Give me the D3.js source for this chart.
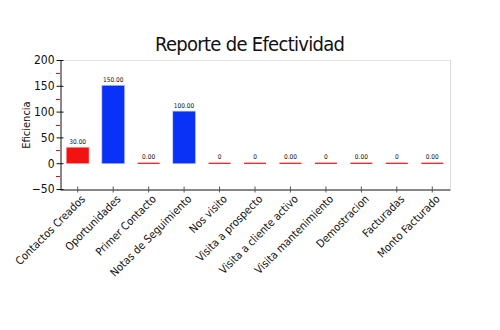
<!DOCTYPE html>
<html><head><meta charset="utf-8">
<script src="https://cdnjs.cloudflare.com/ajax/libs/d3/7.8.5/d3.min.js"></script>
<style>body{margin:0;background:#fff}svg{display:block}text{font-family:"DejaVu Sans Condensed","DejaVu Sans",sans-serif}</style>
</head><body><svg id="c" width="500" height="330"></svg>
<script>
const categories = ["Contactos Creados","Oportunidades","Primer Contacto","Notas de Seguimiento","Nos visito","Visita a prospecto","Visita a cliente activo","Visita mantenimiento","Demostracion","Facturadas","Monto Facturado"];
const values = [30,150,0,100,0,0,0,0,0,0,0];
const valueLabels = ["30.00","150.00","0.00","100.00","0","0","0.00","0","0.00","0","0.00"];
const barColors = ["#f21212","#0a32f7","#f21212","#0a32f7","#f21212","#f21212","#f21212","#f21212","#f21212","#f21212","#f21212"];
const yTicks = [-50,0,50,100,150,200];
const title = "Reporte de Efectividad";
const yTitle = "Eficiencia";

const svg = d3.select("#c");
const L=60,R=450,T=60,B=189;
const x = d3.scaleBand().domain(categories).range([L,R]).paddingInner(0.38).paddingOuter(0.19);
const y = d3.scaleLinear().domain([-50,200]).range([B,T]);

svg.append("text").attr("x",250).attr("y",51).attr("text-anchor","middle")
  .attr("font-size",20).attr("fill","#111").attr("textLength",190).text(title);

svg.append("line").attr("x1",L).attr("x2",R).attr("y1",T+0.5).attr("y2",T+0.5).attr("stroke","#e2e2e2");
svg.append("line").attr("x1",R+0.5).attr("x2",R+0.5).attr("y1",T).attr("y2",B).attr("stroke","#dcdcdc");

const minors = d3.range(-25,200,50);
svg.selectAll(".mn").data(minors).join("line").attr("x1",L-4).attr("x2",L).attr("y1",d=>Math.round(y(d))+0.5).attr("y2",d=>Math.round(y(d))+0.5).attr("stroke","#e01010");

const ya = svg.append("g").attr("transform",`translate(${L+0.5},0)`)
  .call(d3.axisLeft(y).tickValues(yTicks).tickSize(4).tickSizeOuter(0).tickPadding(2));
ya.select(".domain").attr("stroke","#111");
ya.selectAll(".tick line").attr("x2",3).attr("x1",-4).attr("stroke","#111");
ya.selectAll("text").attr("font-size",12).attr("fill","#111");

svg.append("text").attr("transform","translate(30,125) rotate(-90)").attr("text-anchor","middle")
  .attr("font-size",11).attr("fill","#111").text(yTitle);

const xa = svg.append("g").attr("transform",`translate(0,${B+0.5})`)
  .call(d3.axisBottom(x).tickSize(4).tickSizeOuter(0).tickPadding(2));
xa.select(".domain").attr("stroke","#111");
xa.selectAll(".tick line").attr("y1",-3).attr("y2",3).attr("stroke","#555");
xa.selectAll("text").attr("font-size",11).attr("fill","#111").attr("text-anchor","end")
  .attr("dy","0").attr("transform","translate(4,6) rotate(-45)");

const data = categories.map((c,i)=>({c,v:values[i],l:valueLabels[i],col:barColors[i]}));
svg.selectAll(".bar").data(data).join("rect")
  .attr("x",d=>x(d.c)).attr("width",x.bandwidth())
  .attr("y",d=>d.v>0?y(d.v):y(0)-0.5).attr("height",d=>d.v>0?y(0)-y(d.v):1.2)
  .attr("fill",d=>d.col).attr("stroke",d=>d.v>0?d.col:"none").attr("stroke-opacity",0.35).attr("stroke-width",1.5);

svg.selectAll(".vl").data(data).join("text")
  .attr("x",d=>x(d.c)+x.bandwidth()/2).attr("y",d=>y(d.v)-4).attr("text-anchor","middle")
  .attr("font-size",6.5).attr("fill","#111").text(d=>d.l);
</script></body></html>
